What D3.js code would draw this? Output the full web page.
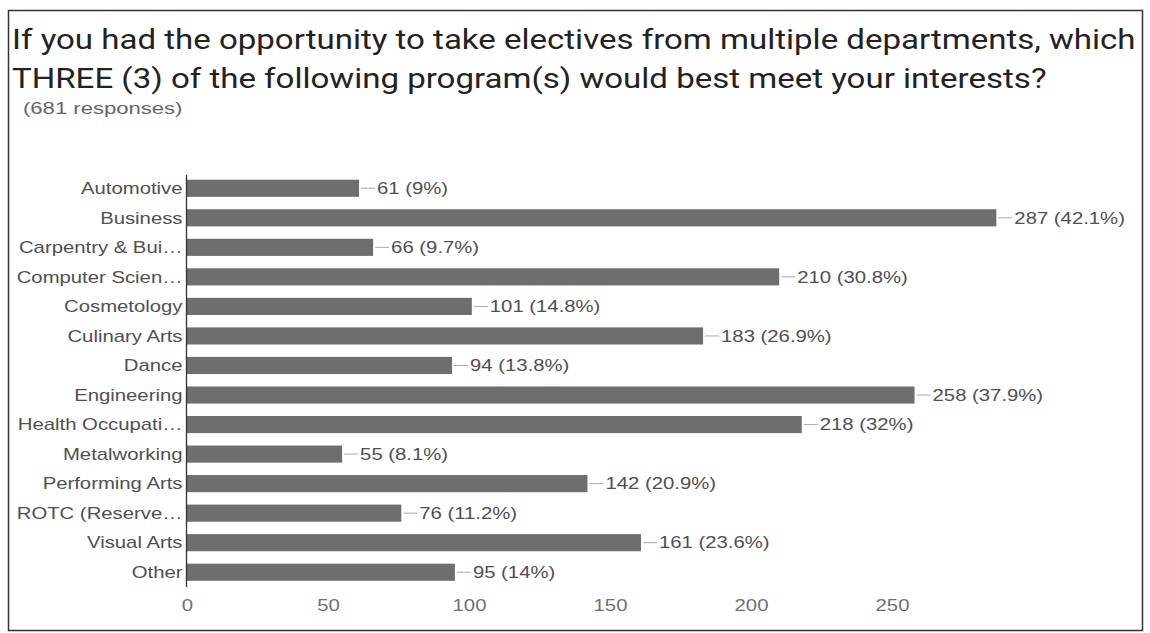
<!DOCTYPE html>
<html>
<head>
<meta charset="utf-8">
<script src="https://cdn.jsdelivr.net/npm/d3@7"></script>
<style>
  html, body { margin: 0; padding: 0; background: #fff; }
  svg { display: block; }
</style>
</head>
<body>
<svg id="chart" width="1150" height="633"></svg>
<script>
// Survey answers: program names, response counts and their share of 681 responses
const categories = [
  "Automotive", "Business", "Carpentry & Bui\u2026", "Computer Scien\u2026", "Cosmetology",
  "Culinary Arts", "Dance", "Engineering", "Health Occupati\u2026", "Metalworking",
  "Performing Arts", "ROTC (Reserve\u2026", "Visual Arts", "Other"
];
const counts = [61, 287, 66, 210, 101, 183, 94, 258, 218, 55, 142, 76, 161, 95];
const percents = ["9%", "42.1%", "9.7%", "30.8%", "14.8%", "26.9%", "13.8%", "37.9%", "32%", "8.1%", "20.9%", "11.2%", "23.6%", "14%"];
const tickValues = [0, 50, 100, 150, 200, 250];

const titleLines = [
  "If you had the opportunity to take electives from multiple departments, which",
  "THREE (3) of the following program(s) would best meet your interests?"
];
const subtitle = "(681 responses)";

const svg = d3.select("#chart");
const font = "'Liberation Sans', Arial, sans-serif";
const wide = 1.27;       // horizontal stretch of the chart text
const titleWide = 1.18;  // horizontal stretch of the heading

// outer frame
svg.append("rect")
  .attr("x", 8.5).attr("y", 10.5)
  .attr("width", 1134).attr("height", 620)
  .attr("fill", "none").attr("stroke", "#333").attr("stroke-width", 1.5);

// title
svg.append("g").selectAll("text").data(titleLines).join("text")
  .attr("transform", (d, i) => `translate(12,${49 + i * 39}) scale(${titleWide},1)`)
  .attr("font-family", "Roboto, 'Noto Sans', sans-serif")
  .attr("font-size", 28)
  .attr("fill", "#222")
  .text(d => d);

svg.append("text")
  .attr("transform", `translate(23,114) scale(1.38,1)`)
  .attr("font-family", font)
  .attr("font-size", 16)
  .attr("fill", "#666")
  .text(subtitle);

// scales
const x0 = 187;
const x = d3.scaleLinear().domain([0, 300]).range([x0, x0 + 300 * 2.82]);
const y = d3.scaleBand().domain(categories).range([173.5, 587]).paddingInner(0.42).paddingOuter(0.21);

// bars
svg.append("g").selectAll("rect").data(counts).join("rect")
  .attr("x", x(0))
  .attr("y", (d, i) => y(categories[i]))
  .attr("width", d => x(d) - x(0))
  .attr("height", y.bandwidth())
  .attr("fill", "#6e6e6e");

// left axis line
svg.append("line")
  .attr("x1", x0 - 0.5).attr("x2", x0 - 0.5)
  .attr("y1", 175).attr("y2", 587)
  .attr("stroke", "#333").attr("stroke-width", 1.3);

// category labels
svg.append("g").selectAll("text").data(categories).join("text")
  .attr("transform", d => `translate(${x0 - 4.5},${y(d) + y.bandwidth() / 2}) scale(${wide},1)`)
  .attr("dy", "0.36em")
  .attr("text-anchor", "end")
  .attr("font-family", font)
  .attr("font-size", 16)
  .attr("fill", "#505050")
  .text(d => d);

// value annotations with leader lines
const ann = svg.append("g").selectAll("g").data(counts).join("g")
  .attr("transform", (d, i) => `translate(${x(d)},${y(categories[i]) + y.bandwidth() / 2})`);
ann.append("line")
  .attr("x1", 2).attr("x2", 16)
  .attr("stroke", "#aaa").attr("stroke-width", 1);
ann.append("text")
  .attr("transform", `translate(18,0) scale(${wide},1)`)
  .attr("dy", "0.36em")
  .attr("font-family", font)
  .attr("font-size", 16)
  .attr("fill", "#505050")
  .text((d, i) => `${d} (${percents[i]})`);

// bottom axis tick labels
const axis = d3.axisBottom(x).tickValues(tickValues).tickSize(0).tickPadding(0);
const gx = svg.append("g").attr("transform", "translate(0,600)").call(axis);
gx.select(".domain").remove();
gx.selectAll("text")
  .attr("transform", `scale(${wide},1)`)
  .attr("font-family", font)
  .attr("font-size", 16)
  .attr("fill", "#707070")
  .attr("dy", "0.71em");
</script>
</body>
</html>
